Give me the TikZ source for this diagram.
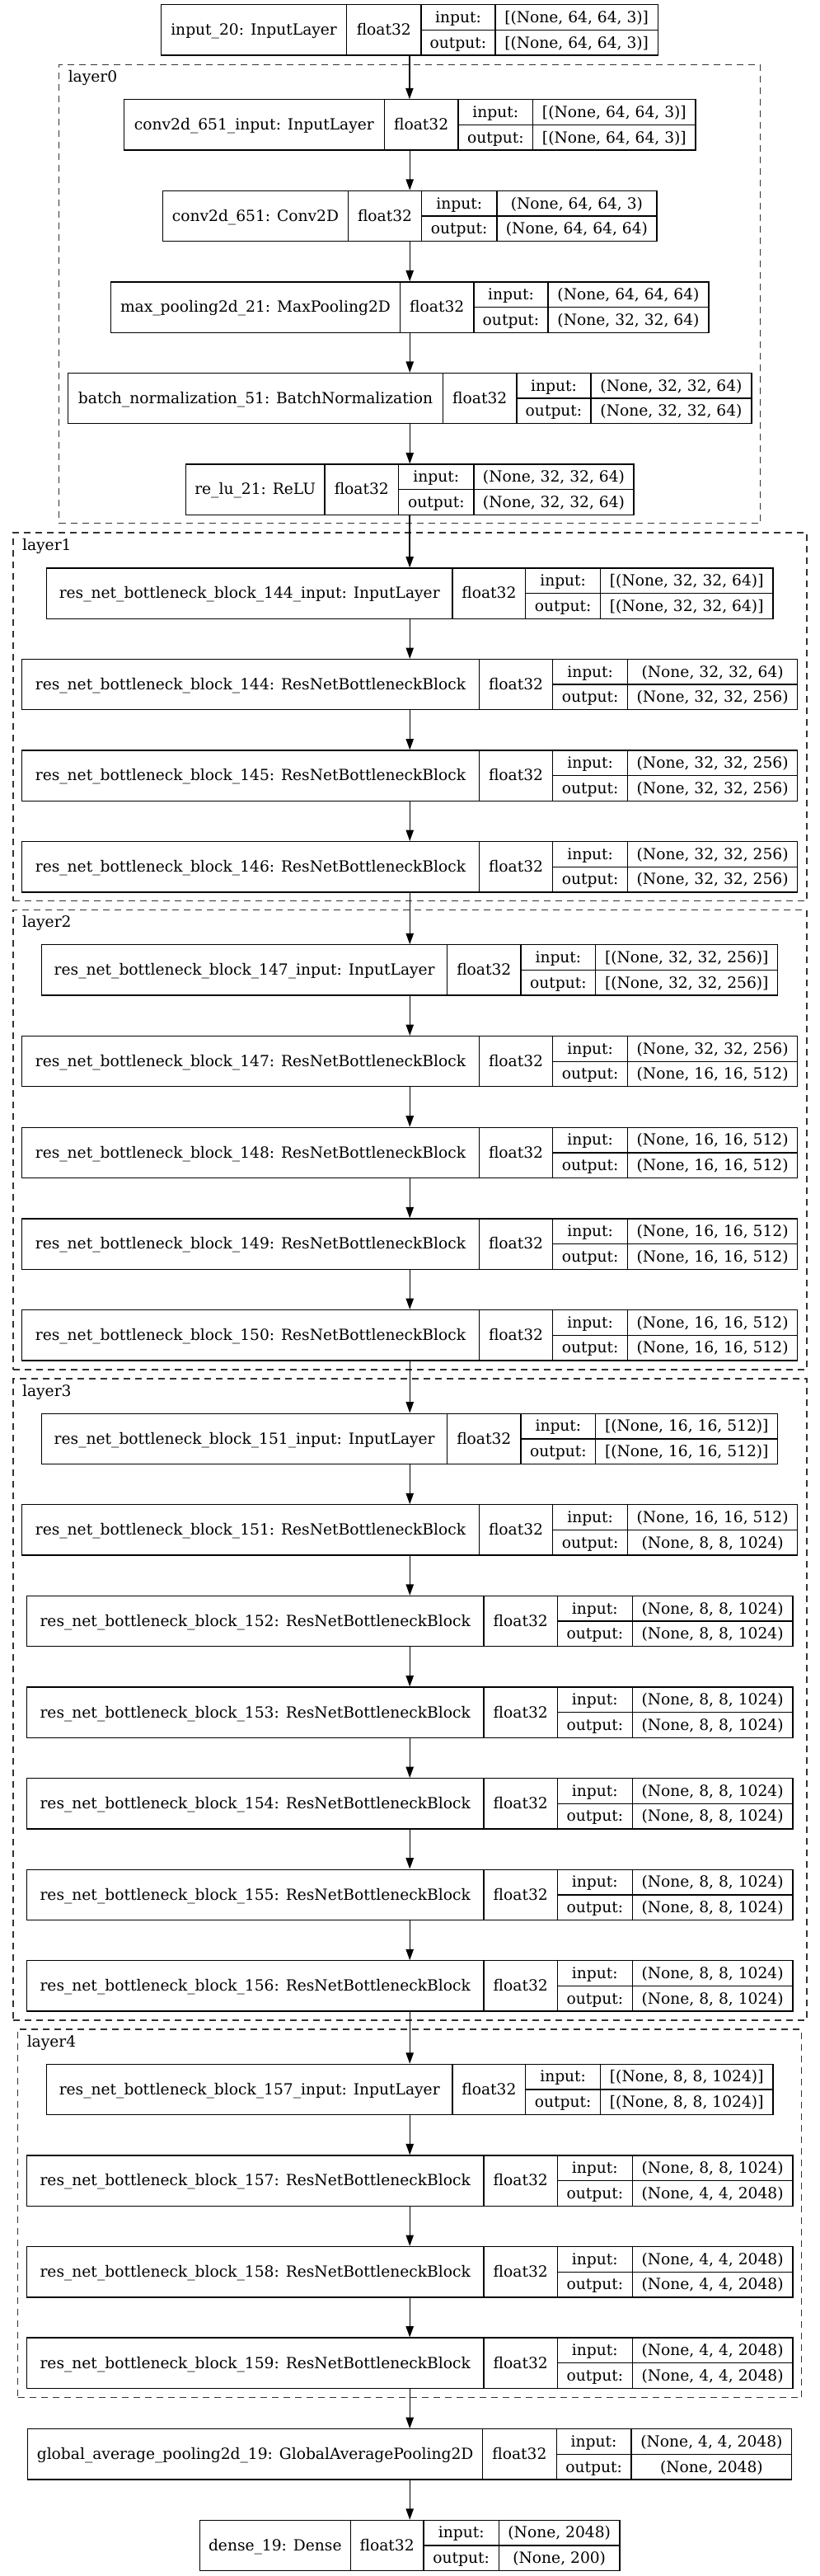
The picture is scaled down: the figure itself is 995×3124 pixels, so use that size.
\documentclass[tikz,border=0pt]{standalone}
\usepackage{fontspec}
\setmainfont{DejaVu Serif}
\usetikzlibrary{arrows.meta,fit}
\newcommand\setcols[5]{\def\cxl{#1}\def\cxa{#2}\def\cxb{#3}\def\cxc{#4}\def\cxr{#5}}
\newcommand\recnode[5]{%
  \pgfmathsetmacro\ryt{#2}\pgfmathsetmacro\ryb{#2+61.3}\pgfmathsetmacro\rym{#2+30.65}%
  \node[recbox,fit={(\cxl,\ryt) (\cxr,\ryb)}] (#1) {};
  \draw[recline] (\cxa,\ryt) -- (\cxa,\ryb) (\cxb,\ryt) -- (\cxb,\ryb)
                 (\cxc,\ryt) -- (\cxc,\ryb) (\cxb,\rym) -- (\cxr,\rym);
  \node[cell] at ({(\cxl+\cxa)/2},\rym) {#3};
  \node[cell] at ({(\cxa+\cxb)/2},\rym) {float32};
  \node[cell] at ({(\cxb+\cxc)/2},{(\ryt+\rym)/2}) {input:};
  \node[cell] at ({(\cxb+\cxc)/2},{(\rym+\ryb)/2}) {output:};
  \node[cell] at ({(\cxc+\cxr)/2},{(\ryt+\rym)/2}) {#4};
  \node[cell] at ({(\cxc+\cxr)/2},{(\rym+\ryb)/2}) {#5};
}
\begin{document}
\begin{tikzpicture}[x=0.75pt,y=-0.75pt,
  recbox/.style={draw=black,line width=1pt,inner sep=0pt},
  recline/.style={draw=black,line width=1pt},
  cell/.style={inner sep=0pt,text height=11.5pt,text depth=2pt,font=\fontsize{14pt}{16pt}\selectfont},
  cluster/.style={draw=black!80,line width=1pt,dash pattern=on 6pt off 4.5pt,inner sep=0pt},
  clabel/.style={anchor=base west,inner sep=0pt,font=\fontsize{14pt}{16pt}\selectfont},
  arr/.style={draw=black,line width=1pt,-{Triangle[length=10pt,width=7pt]}}]
\useasboundingbox (0,0) rectangle (995,3124);
\fill[white] (0,0) rectangle (995,3124);
% clusters
\node[cluster,fit={(71.7,78.4) (922.7,634.7)}] (layer0) {};
\node[clabel] (l0) at (82.5,99.4) {layer0};
\node[cluster,fit={(16,646) (979,1092.7)}] (layer1) {};
\node[clabel] (l1) at (26.8,667) {layer1};
\node[cluster,fit={(16,1103.7) (979,1661)}] (layer2) {};
\node[clabel] (l2) at (26.8,1124.7) {layer2};
\node[cluster,fit={(16,1672.1) (979,2450)}] (layer3) {};
\node[clabel] (l3) at (26.8,1693.1) {layer3};
\node[cluster,fit={(21.7,2461) (972.7,2907.7)}] (layer4) {};
\node[clabel] (l4) at (32.5,2482) {layer4};
% nodes
\setcols{195.5}{420.7}{510.9}{601.0}{798.3}
\recnode{n0}{5.7}{input\_20: InputLayer}{[(None, 64, 64, 3)]}{[(None, 64, 64, 3)]}
\setcols{150.4}{466.4}{555.9}{646.7}{844}
\recnode{n1}{120.8}{conv2d\_651\_input: InputLayer}{[(None, 64, 64, 3)]}{[(None, 64, 64, 3)]}
\setcols{197.4}{422.6}{511.5}{602.9}{797}
\recnode{n2}{231.35}{conv2d\_651: Conv2D}{(None, 64, 64, 3)}{(None, 64, 64, 64)}
\setcols{134.5}{485.5}{575}{665}{860}
\recnode{n3}{341.9}{max\_pooling2d\_21: MaxPooling2D}{(None, 64, 64, 64)}{(None, 32, 32, 64)}
\setcols{82.5}{537.5}{627}{717}{912}
\recnode{n4}{452.45}{batch\_normalization\_51: BatchNormalization}{(None, 32, 32, 64)}{(None, 32, 32, 64)}
\setcols{225.3}{394}{483.6}{575}{769}
\recnode{n5}{563}{re\_lu\_21: ReLU}{(None, 32, 32, 64)}{(None, 32, 32, 64)}
% layer1
\setcols{56.5}{549}{637.8}{728.5}{938}
\recnode{n6}{689}{res\_net\_bottleneck\_block\_144\_input: InputLayer}{[(None, 32, 32, 64)]}{[(None, 32, 32, 64)]}
\setcols{26.7}{581.3}{670.8}{761.5}{967.8}
\recnode{n7}{799.5}{res\_net\_bottleneck\_block\_144: ResNetBottleneckBlock}{(None, 32, 32, 64)}{(None, 32, 32, 256)}
\recnode{n8}{910}{res\_net\_bottleneck\_block\_145: ResNetBottleneckBlock}{(None, 32, 32, 256)}{(None, 32, 32, 256)}
\recnode{n9}{1020.6}{res\_net\_bottleneck\_block\_146: ResNetBottleneckBlock}{(None, 32, 32, 256)}{(None, 32, 32, 256)}
% layer2
\setcols{50.8}{542.6}{632}{722.8}{943.7}
\recnode{n10}{1145.8}{res\_net\_bottleneck\_block\_147\_input: InputLayer}{[(None, 32, 32, 256)]}{[(None, 32, 32, 256)]}
\setcols{26.7}{581.3}{670.8}{761.5}{967.8}
\recnode{n11}{1256.5}{res\_net\_bottleneck\_block\_147: ResNetBottleneckBlock}{(None, 32, 32, 256)}{(None, 16, 16, 512)}
\recnode{n12}{1367.2}{res\_net\_bottleneck\_block\_148: ResNetBottleneckBlock}{(None, 16, 16, 512)}{(None, 16, 16, 512)}
\recnode{n13}{1477.9}{res\_net\_bottleneck\_block\_149: ResNetBottleneckBlock}{(None, 16, 16, 512)}{(None, 16, 16, 512)}
\recnode{n14}{1588.6}{res\_net\_bottleneck\_block\_150: ResNetBottleneckBlock}{(None, 16, 16, 512)}{(None, 16, 16, 512)}
% layer3
\setcols{50.8}{542.6}{632}{722.8}{943.7}
\recnode{n15}{1714.2}{res\_net\_bottleneck\_block\_151\_input: InputLayer}{[(None, 16, 16, 512)]}{[(None, 16, 16, 512)]}
\setcols{26.7}{581.3}{670.8}{761.5}{967.8}
\recnode{n16}{1824.8}{res\_net\_bottleneck\_block\_151: ResNetBottleneckBlock}{(None, 16, 16, 512)}{(None, 8, 8, 1024)}
\setcols{32.4}{587}{676.5}{767.2}{962}
\recnode{n17}{1935.4}{res\_net\_bottleneck\_block\_152: ResNetBottleneckBlock}{(None, 8, 8, 1024)}{(None, 8, 8, 1024)}
\recnode{n18}{2046.0}{res\_net\_bottleneck\_block\_153: ResNetBottleneckBlock}{(None, 8, 8, 1024)}{(None, 8, 8, 1024)}
\recnode{n19}{2156.6}{res\_net\_bottleneck\_block\_154: ResNetBottleneckBlock}{(None, 8, 8, 1024)}{(None, 8, 8, 1024)}
\recnode{n20}{2267.2}{res\_net\_bottleneck\_block\_155: ResNetBottleneckBlock}{(None, 8, 8, 1024)}{(None, 8, 8, 1024)}
\recnode{n21}{2377.8}{res\_net\_bottleneck\_block\_156: ResNetBottleneckBlock}{(None, 8, 8, 1024)}{(None, 8, 8, 1024)}
% layer4
\setcols{56.5}{549}{637.8}{728.5}{938}
\recnode{n22}{2503.3}{res\_net\_bottleneck\_block\_157\_input: InputLayer}{[(None, 8, 8, 1024)]}{[(None, 8, 8, 1024)]}
\setcols{32.4}{587}{676.5}{767.2}{962}
\recnode{n23}{2613.9}{res\_net\_bottleneck\_block\_157: ResNetBottleneckBlock}{(None, 8, 8, 1024)}{(None, 4, 4, 2048)}
\recnode{n24}{2724.5}{res\_net\_bottleneck\_block\_158: ResNetBottleneckBlock}{(None, 4, 4, 2048)}{(None, 4, 4, 2048)}
\recnode{n25}{2835.1}{res\_net\_bottleneck\_block\_159: ResNetBottleneckBlock}{(None, 4, 4, 2048)}{(None, 4, 4, 2048)}
% tail
\setcols{33.6}{585.7}{675.2}{766}{960.8}
\recnode{n26}{2945.7}{global\_average\_pooling2d\_19: GlobalAveragePooling2D}{(None, 4, 4, 2048)}{(None, 2048)}
\setcols{242.4}{425.2}{514}{605.4}{752}
\recnode{n27}{3056.3}{dense\_19: Dense}{(None, 2048)}{(None, 200)}
% edges
\foreach \a/\b in {n0/n1,n1/n2,n2/n3,n3/n4,n4/n5,n5/n6,n6/n7,n7/n8,n8/n9,n9/n10,
  n10/n11,n11/n12,n12/n13,n13/n14,n14/n15,n15/n16,n16/n17,n17/n18,n18/n19,n19/n20,
  n20/n21,n21/n22,n22/n23,n23/n24,n24/n25,n25/n26,n26/n27}
  \draw[arr] (\a.south) -- (\a.south |- \b.north);
\end{tikzpicture}
\end{document}
